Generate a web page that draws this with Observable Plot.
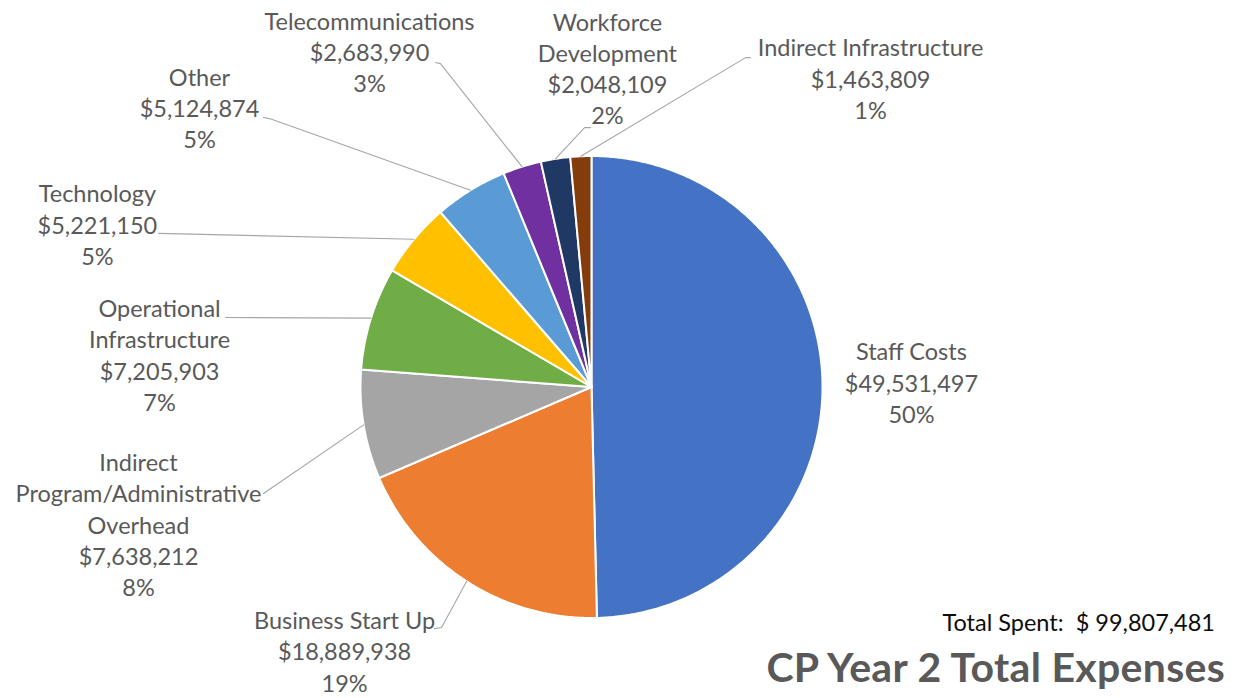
<!DOCTYPE html>
<html><head><meta charset="utf-8">
<script src="https://cdn.jsdelivr.net/npm/d3@7"></script>
<script src="https://cdn.jsdelivr.net/npm/@observablehq/plot@0.6"></script>
<style>
html,body{margin:0;padding:0;background:#fff;}
#wrap{position:relative;width:1240px;height:698px;font-family:Lato,sans-serif;overflow:hidden;}
#total{position:absolute;right:25px;top:611px;font-size:23.5px;line-height:1;color:#0d0d0d;white-space:pre;}
#title{position:absolute;right:15px;top:646px;font-size:41px;font-weight:bold;line-height:1;letter-spacing:0.3px;color:#595959;white-space:pre;}
</style></head><body>
<div id="wrap"><div id="chart"></div><div id="total"></div><div id="title"></div></div>
<script>
// ---------- data ----------
const categories = ["Staff Costs", "Business Start Up", "Indirect Program/Administrative Overhead",
  "Operational Infrastructure", "Technology", "Other", "Telecommunications",
  "Workforce Development", "Indirect Infrastructure"];
const values = [49531497, 18889938, 7638212, 7205903, 5221150, 5124874, 2683990, 2048109, 1463809];
const colors = ["#4472C4", "#ED7D31", "#A5A5A5", "#70AD47", "#FFC000", "#5B9BD5", "#7030A0", "#203864", "#843C0C"];
const totalSpent = 99807481;
const titleText = "CP Year 2 Total Expenses";
const totalLabel = "Total Spent:  $ ";

// ---------- layout (pie radius = 1, centre = 0,0, y up) ----------
const labelWrap = ["Staff Costs", "Business Start Up", "Indirect\nProgram/Administrative\nOverhead",
  "Operational\nInfrastructure", "Technology", "Other", "Telecommunications",
  "Workforce\nDevelopment", "Indirect Infrastructure"];
const labelPos = [[1.385, 0.015], [-1.069, -1.149], [-1.961, -0.600], [-1.870, 0.134], [-2.139, 0.699],
  [-1.697, 1.203], [-0.961, 1.446], [0.069, 1.374], [1.208, 1.331]];
const leaderStart = [null, [[-0.680, -1.046], [-0.649, -1.041]], [[-1.420, -0.461]], [[-1.584, 0.301]],
  [[-1.874, 0.665]], [[-1.420, 1.167], [-1.394, 1.162]], [[-0.675, 1.405], [-0.654, 1.400]],
  [[-0.004, 1.123], [-0.030, 1.123]], [[0.688, 1.426], [0.667, 1.426]]];
const frameDomain = [[-2.5584, -1.3485], [2.8095, 1.6732]];

// ---------- build ----------
const sum = d3.sum(values);
const fmt = d3.format(",");
const arcs = d3.pie().sort(null).value(d => d)(values);

const slices = arcs.map((a, i) => {
  const n = Math.max(2, Math.ceil((a.endAngle - a.startAngle) / (Math.PI / 360)));
  const ring = [[0, 0]];
  for (let k = 0; k <= n; k++) {
    const t = a.startAngle + (a.endAngle - a.startAngle) * k / n;
    ring.push([Math.sin(t), Math.cos(t)]);
  }
  ring.push([0, 0]);
  return {type: "Feature", properties: {name: categories[i]}, geometry: {type: "Polygon", coordinates: [ring]}};
});

const labels = categories.map((c, i) => ({
  name: c,
  x: labelPos[i][0], y: labelPos[i][1],
  text: `${labelWrap[i]}\n$${fmt(values[i])}\n${Math.round(values[i] / sum * 100)}%`
}));

const leaders = [];
arcs.forEach((a, i) => {
  if (!leaderStart[i]) return;
  const mid = (a.startAngle + a.endAngle) / 2;
  leaderStart[i].forEach(p => leaders.push({name: categories[i], x: p[0], y: p[1]}));
  leaders.push({name: categories[i], x: Math.sin(mid), y: Math.cos(mid)});
});

const chart = Plot.plot({
  width: 1240, height: 698, margin: 0,
  style: {fontFamily: "Lato, sans-serif", background: "white"},
  projection: {type: "reflect-y", domain: {type: "MultiPoint", coordinates: frameDomain}},
  color: {domain: categories, range: colors},
  marks: [
    Plot.geo(slices, {fill: d => d.properties.name, stroke: "white", strokeWidth: 2, strokeLinejoin: "round"}),
    Plot.line(leaders, {x: "x", y: "y", z: "name", stroke: "#A6A6A6", strokeWidth: 1.1, curve: "linear"}),
    Plot.text(labels, {x: "x", y: "y", text: "text", fontSize: 23.5, lineHeight: 1.33, fill: "#595959", dy: -2,
      fontFamily: "Lato, sans-serif", textAnchor: "middle", lineAnchor: "middle"})
  ]
});
document.getElementById("chart").appendChild(chart);
document.getElementById("total").textContent = totalLabel + fmt(totalSpent);
document.getElementById("title").textContent = titleText;
</script>
</body></html>
